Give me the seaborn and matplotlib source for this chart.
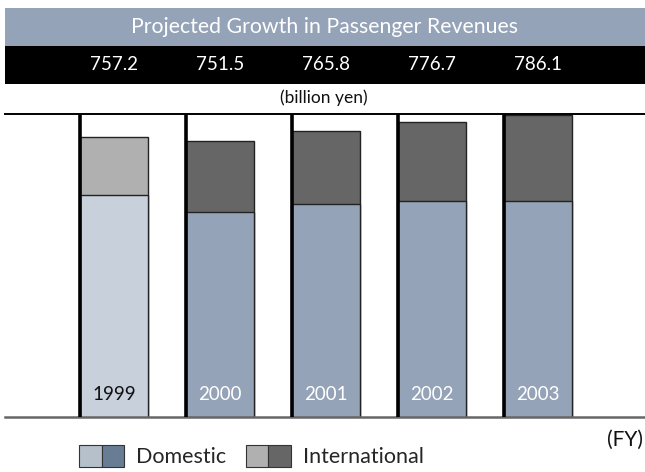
import matplotlib
matplotlib.use("Agg")
import matplotlib.pyplot as plt
import matplotlib.transforms as mtrans
from matplotlib.patches import Rectangle, Patch
from matplotlib.legend_handler import HandlerTuple
import seaborn as sns

years = ['1999', '2000', '2001', '2002', '2003']
totals = [757.2, 751.5, 765.8, 776.7, 786.1]
domestic = [681.2, 658.2, 668.6, 672.9, 673.1]
international = [76.0, 93.3, 97.2, 103.8, 113.0]
title = "Projected Growth in Passenger Revenues"
unit = "(billion yen)"
legend_labels = ["Domestic", "International"]

sns.set_style("white")
plt.rcParams['font.family'] = ['Lato', 'DejaVu Sans']

W, H = 645, 472
fig = plt.figure(figsize=(W / 100, H / 100), dpi=100)

def fx(px):
    return px / W

def fy(py):
    return 1 - py / H

# header bars
fig.patches.append(Rectangle((fx(5), fy(46)), fx(640), 38 / H, transform=fig.transFigure,
                             facecolor='#95a3b8', edgecolor='none', zorder=0))
fig.patches.append(Rectangle((fx(5), fy(84)), fx(640), 38 / H, transform=fig.transFigure,
                             facecolor='black', edgecolor='none', zorder=0))
fig.text(fx(324), fy(27), title, color='white', fontsize=15.3, ha='center', va='center')
fig.text(fx(324), fy(98), unit, color='#111111', fontsize=12.5, ha='center', va='center')

ax = fig.add_axes([fx(5), fy(417), fx(640), 303 / H])
ax.set_zorder(2)
ax.patch.set_visible(False)

dom_colors = {y: ('#c8d0dc' if i == 0 else '#95a3b8') for i, y in enumerate(years)}
int_colors = {y: ('#b0b0b0' if i == 0 else '#666666') for i, y in enumerate(years)}

sns.barplot(x=years, y=totals, hue=years, palette=int_colors, width=0.64,
            edgecolor='#222222', linewidth=1, legend=False, ax=ax, saturation=1)
sns.barplot(x=years, y=domestic, hue=years, palette=dom_colors, width=0.64,
            edgecolor='#222222', linewidth=1, legend=False, ax=ax, saturation=1)

ax.set_ylim(389.3, 787.5)
ax.set_xlim(-1.028, 5.009)

for p in ax.patches[:len(years)]:
    ax.plot([p.get_x(), p.get_x()], [389.3, 787.5], color='black', lw=2.6,
            solid_capstyle='butt', zorder=5, clip_on=False)

blend = mtrans.blended_transform_factory(ax.transData, ax.transAxes)
blend_fig = mtrans.blended_transform_factory(ax.transData, fig.transFigure)
for i, (y, t) in enumerate(zip(years, totals)):
    ax.text(i, 0.073, y, transform=blend, ha='center', va='center', fontsize=13.5,
            color='#111111' if i == 0 else 'white', zorder=6)
    ax.text(i, fy(65), f"{t:.1f}", transform=blend_fig, ha='center', va='center',
            fontsize=13.5, color='white', clip_on=False)

ax.set_xticks([])
ax.set_yticks([])
ax.set_xlabel('')
ax.set_ylabel('')
for s in ['left', 'right']:
    ax.spines[s].set_visible(False)
ax.spines['top'].set_color('black')
ax.spines['top'].set_linewidth(1.4)
ax.spines['bottom'].set_color('#666666')
ax.spines['bottom'].set_linewidth(1.8)

fig.text(fx(643), fy(440), "(FY)", fontsize=15, color='#111111', ha='right', va='center')

handles = [(Patch(facecolor='#b6c0ca', edgecolor='#333333', lw=0.8),
            Patch(facecolor='#687d94', edgecolor='#333333', lw=0.8)),
           (Patch(facecolor='#b0b0b0', edgecolor='#333333', lw=0.8),
            Patch(facecolor='#666666', edgecolor='#333333', lw=0.8))]
fig.legend(handles, legend_labels, handler_map={tuple: HandlerTuple(ndivide=None, pad=0)},
           loc='center left', bbox_to_anchor=(fx(79), fy(456)), ncol=2, frameon=False,
           handlelength=2.1, handleheight=1.2, handletextpad=0.55,
           columnspacing=0.9, borderaxespad=0, borderpad=0,
           prop={'size': 15.5})

fig.savefig('out.png', dpi=100)
